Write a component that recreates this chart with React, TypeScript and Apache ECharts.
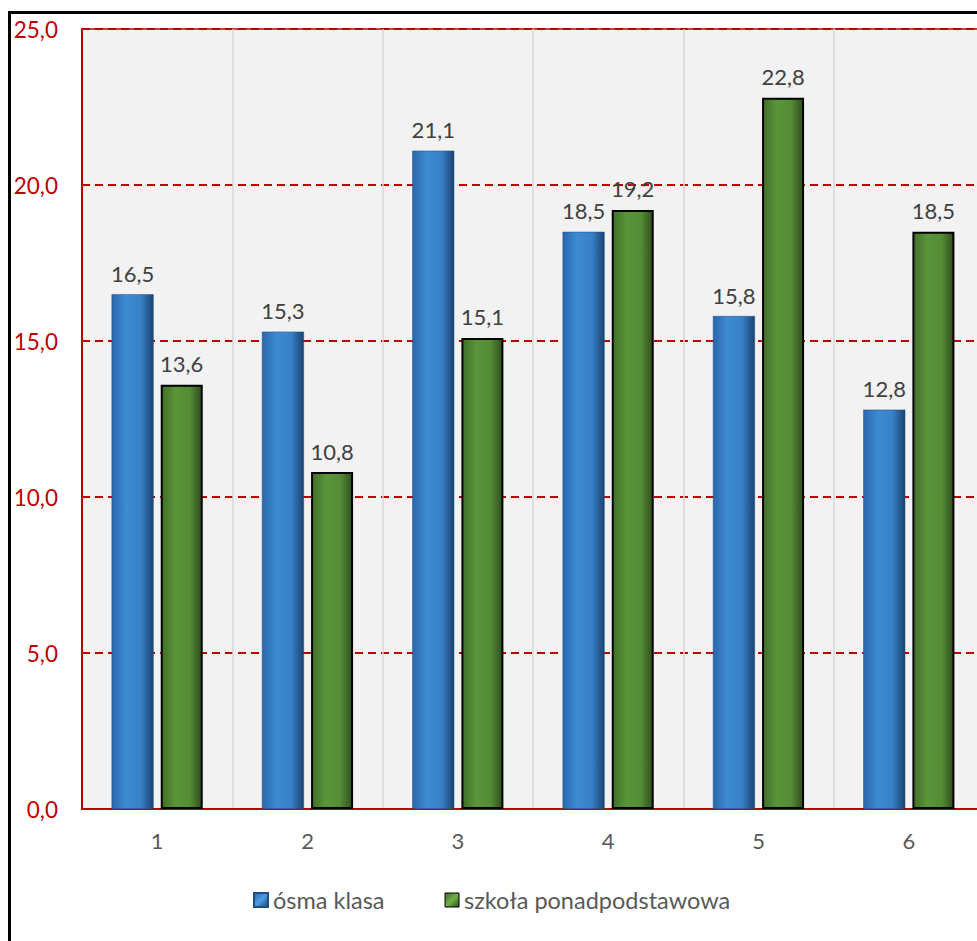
import React, { useEffect, useRef } from "react";
import * as echarts from "echarts";

const categories = ["1", "2", "3", "4", "5", "6"];
const osmaKlasa = [16.5, 15.3, 21.1, 18.5, 15.8, 12.8];
const szkolaPonad = [13.6, 10.8, 15.1, 19.2, 22.8, 18.5];
const seriesNames = ["ósma klasa", "szkoła ponadpodstawowa"];
const yMin = 0;
const yMax = 25;
const yStep = 5;

const FONT = "Lato";
const fmt = (v: number) => v.toFixed(1).replace(".", ",");

export default function App() {
  const ref = useRef<HTMLDivElement>(null);
  useEffect(() => {
    if (!ref.current) return;
    const chart = echarts.init(ref.current, undefined, { renderer: "svg" });
    const blue = new echarts.graphic.LinearGradient(0, 0, 1, 0, [
      { offset: 0, color: "#2a67ab" },
      { offset: 0.35, color: "#3d8bd3" },
      { offset: 0.7, color: "#3780c6" },
      { offset: 1, color: "#1b4371" },
    ]);
    const green = new echarts.graphic.LinearGradient(0, 0, 1, 0, [
      { offset: 0, color: "#416f28" },
      { offset: 0.35, color: "#5a953a" },
      { offset: 0.7, color: "#558c36" },
      { offset: 1, color: "#2f4f1c" },
    ]);
    const blueIcon = new echarts.graphic.LinearGradient(0, 0, 1, 1, [
      { offset: 0, color: "#2a69b0" },
      { offset: 0.5, color: "#4a9ce6" },
      { offset: 1, color: "#1c4675" },
    ]);
    const greenIcon = new echarts.graphic.LinearGradient(0, 0, 1, 1, [
      { offset: 0, color: "#3d6a25" },
      { offset: 0.5, color: "#6fb248" },
      { offset: 1, color: "#2f4f1c" },
    ]);
    const valueLabel = {
      show: true,
      position: "top",
      distance: 10,
      color: "#404040",
      fontSize: 22,
      fontFamily: FONT,
      formatter: (p: any) => fmt(p.value),
    };
    chart.setOption({
      animation: false,
      backgroundColor: "transparent",
      textStyle: { fontFamily: FONT },
      grid: {
        left: 82,
        top: 29,
        right: 26,
        bottom: 151,
        show: true,
        backgroundColor: "#f2f2f2",
        borderColor: "#c00000",
        borderWidth: 1.5,
        containLabel: false,
      },
      legend: {
        left: 248,
        top: 883,
        itemWidth: 14,
        itemHeight: 14,
        itemGap: 60,
        textStyle: { color: "#595959", fontSize: 23.5, fontFamily: FONT },
        data: [
          { name: seriesNames[0], icon: "rect", itemStyle: { color: blueIcon } },
          { name: seriesNames[1], icon: "rect", itemStyle: { color: greenIcon, borderColor: "#000", borderWidth: 1 } },
        ],
      },
      xAxis: {
        type: "category",
        data: categories,
        axisLine: { show: true, lineStyle: { color: "#c00000", width: 2 } },
        axisTick: { show: false },
        axisLabel: { color: "#595959", fontSize: 22, margin: 20, fontFamily: FONT },
        splitLine: { show: true, lineStyle: { color: "#d9d9d9", width: 1.5 } },
      },
      yAxis: {
        type: "value",
        min: yMin,
        max: yMax,
        interval: yStep,
        axisLine: { show: true, lineStyle: { color: "#c00000", width: 2 } },
        axisTick: { show: false },
        axisLabel: { color: "#c00000", fontSize: 22.5, margin: 24, formatter: (v: number) => fmt(v), fontFamily: FONT },
        splitLine: { show: true, lineStyle: { color: "#c00000", width: 2, type: [8, 5] } },
      },
      series: [
        {
          name: seriesNames[0],
          type: "bar",
          data: osmaKlasa,
          barWidth: 42,
          barGap: "17%",
          itemStyle: { color: blue, borderColor: "#1f4f86", borderWidth: 0.5 },
          label: valueLabel,
        },
        {
          name: seriesNames[1],
          type: "bar",
          data: szkolaPonad,
          barWidth: 42,
          itemStyle: { color: green, borderColor: "#000", borderWidth: 2 },
          label: valueLabel,
        },
      ],
    });
    return () => chart.dispose();
  }, []);

  return (
    <div
      style={{
        position: "fixed",
        left: 0,
        top: 0,
        width: 977,
        height: 941,
        overflow: "hidden",
        background: "#fff",
      }}
    >
      <div
        style={{
          position: "absolute",
          left: 8,
          top: 11,
          width: 2000,
          height: 2000,
          borderLeft: "3px solid #000",
          borderTop: "3px solid #000",
        }}
      />
      <div ref={ref} style={{ position: "absolute", left: 0, top: 0, width: 1010, height: 960 }} />
    </div>
  );
}
